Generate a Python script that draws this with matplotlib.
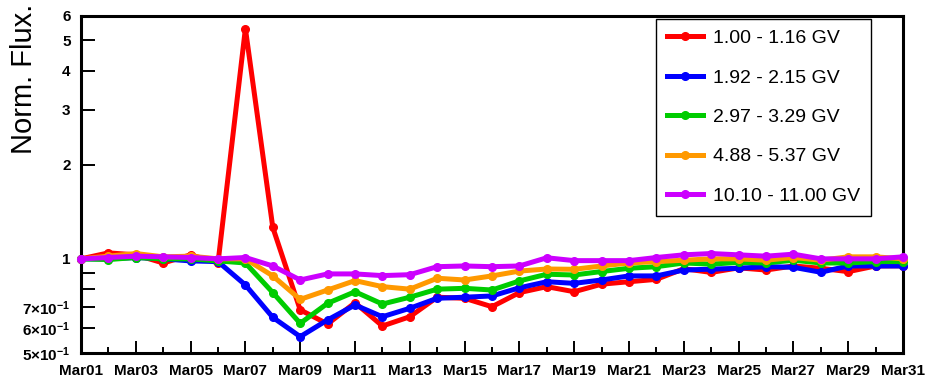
import matplotlib
matplotlib.use("Agg")
import matplotlib.pyplot as plt
from matplotlib.ticker import FixedLocator, NullLocator

plt.rcParams['font.family'] = ['Liberation Sans', 'DejaVu Sans']
plt.rcParams['mathtext.fontset'] = 'custom'
plt.rcParams['mathtext.rm'] = 'Liberation Sans:bold'
plt.rcParams['mathtext.it'] = 'Liberation Sans:bold'
plt.rcParams['mathtext.bf'] = 'Liberation Sans:bold'

days = list(range(1, 32))
day_labels = ["Mar%02d" % d for d in days]

labels = ["1.00 - 1.16 GV", "1.92 - 2.15 GV", "2.97 - 3.29 GV",
          "4.88 - 5.37 GV", "10.10 - 11.00 GV"]
colors = ["#ff0000", "#0000ff", "#00cc00", "#ff9900", "#cc00ff"]

flux_r1 = [1.00, 1.045, 1.03, 0.97, 1.03, 0.97, 5.45, 1.26, 0.687, 0.619,
           0.724, 0.61, 0.653, 0.754, 0.748, 0.703, 0.78, 0.815, 0.785, 0.83,
           0.845, 0.86, 0.93, 0.905, 0.936, 0.921, 0.949, 0.933, 0.91, 0.949, 0.95]
flux_r2 = [1.00, 1.00, 1.01, 1.00, 0.985, 0.98, 0.825, 0.65, 0.564, 0.638,
           0.712, 0.653, 0.695, 0.748, 0.754, 0.761, 0.808, 0.845, 0.835, 0.856,
           0.882, 0.882, 0.921, 0.927, 0.933, 0.944, 0.94, 0.906, 0.949, 0.949, 0.949]
flux_r3 = [1.00, 0.995, 1.01, 1.00, 1.00, 0.985, 0.97, 0.78, 0.622, 0.721,
           0.785, 0.717, 0.754, 0.80, 0.805, 0.795, 0.85, 0.893, 0.888, 0.911,
           0.933, 0.944, 0.97, 0.962, 0.974, 0.97, 0.99, 0.97, 0.97, 0.98, 0.98]
flux_r4 = [1.00, 1.02, 1.04, 1.015, 1.02, 1.00, 1.00, 0.882, 0.742, 0.795,
           0.852, 0.815, 0.80, 0.867, 0.856, 0.882, 0.914, 0.928, 0.926, 0.949,
           0.97, 0.98, 0.99, 1.00, 1.00, 0.99, 1.01, 0.99, 1.015, 1.015, 1.00]
flux_r5 = [1.00, 1.01, 1.02, 1.015, 1.01, 1.00, 1.01, 0.949, 0.856, 0.895,
           0.895, 0.884, 0.89, 0.944, 0.949, 0.944, 0.949, 1.008, 0.987, 0.987,
           0.987, 1.01, 1.03, 1.04, 1.03, 1.02, 1.035, 1.00, 1.00, 1.00, 1.015]
series = [flux_r1, flux_r2, flux_r3, flux_r4, flux_r5]

y_ticks = [0.5, 0.6, 0.7, 0.8, 0.9, 1, 2, 3, 4, 5, 6]
y_tick_labels = [r"$5{\times}10^{-1}$", r"$6{\times}10^{-1}$", r"$7{\times}10^{-1}$",
                 "", "", "1", "2", "3", "4", "5", "6"]

fig = plt.figure(figsize=(9.25, 3.79), dpi=100)
ax = fig.add_axes([81 / 925, 1 - 353 / 379, 822 / 925, 337.5 / 379])

for vals, col, lab in zip(series, colors, labels):
    ax.plot(days, vals, color=col, lw=3.6, marker="o", ms=5.5, label=lab,
            solid_joinstyle="miter", clip_on=False, zorder=3)

ax.set_yscale("log")
ax.set_ylim(0.5, 6)
ax.set_xlim(1, 31)

ax.yaxis.set_major_locator(FixedLocator(y_ticks))
ax.yaxis.set_minor_locator(NullLocator())
ax.set_yticklabels(y_tick_labels)

ax.set_xticks(days[::2])
ax.set_xticklabels(day_labels[::2])
ax.set_xticks(days[1::2], minor=True)

ax.tick_params(axis="both", which="both", direction="in", width=1.4,
               top=False, right=False)
ax.tick_params(axis="x", which="major", length=9, pad=8, labelsize=11)
ax.tick_params(axis="x", which="minor", length=4.5)
ax.tick_params(axis="y", which="major", length=10, pad=7.5, labelsize=11)
for lbl in ax.get_xticklabels() + ax.get_yticklabels():
    lbl.set_fontweight("bold")

for sp in ax.spines.values():
    sp.set_linewidth(2.2)

fig.text(24 / 925, 1 - 4 / 379, "Norm. Flux.", rotation=90, ha="center",
         va="top", fontsize=21)

leg = ax.legend(loc="upper right", bbox_to_anchor=(871 / 925, 1 - 19 / 379),
                bbox_transform=fig.transFigure, fontsize=14, frameon=True,
                fancybox=False, edgecolor="black", framealpha=1,
                handlelength=1.9, handletextpad=0.5, labelspacing=1.12,
                borderpad=0.55, borderaxespad=0)
leg.get_frame().set_linewidth(1.0)

fig.savefig("out.png", dpi=100)
